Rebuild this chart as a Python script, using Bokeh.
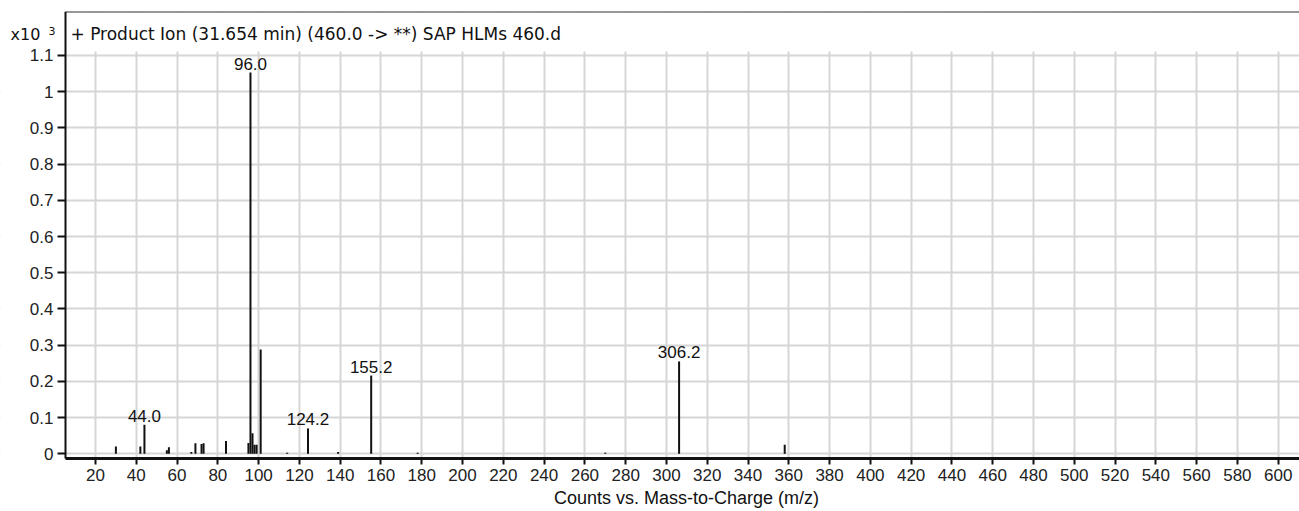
from bokeh.plotting import figure
from bokeh.models import (Range1d, FixedTicker, Label, BoxAnnotation, ColumnDataSource,
                          LinearAxis)
from bokeh.embed import file_html
from bokeh.resources import INLINE
from bokeh.core.properties import value

# ---- data (m/z, counts x10^3) ----
mz = [30, 42, 44.0, 55, 56, 67, 69, 72, 73, 84, 95, 96.0, 97, 98, 99, 101,
      114, 124.2, 139, 155.2, 178, 270, 306.2, 358]
intensity = [0.020, 0.020, 0.080, 0.010, 0.018, 0.005, 0.029, 0.027, 0.029, 0.035,
             0.030, 1.053, 0.057, 0.025, 0.025, 0.288,
             0.003, 0.070, 0.005, 0.216, 0.003, 0.003, 0.255, 0.025]
label_mz = [44.0, 96.0, 124.2, 155.2, 306.2]
label_text = ["44.0", "96.0", "124.2", "155.2", "306.2"]
x_ticks = list(range(20, 601, 20))
y_ticks = [0, 0.1, 0.2, 0.3, 0.4, 0.5, 0.6, 0.7, 0.8, 0.9, 1.0, 1.1]
y_tick_labels = ["0", "0.1", "0.2", "0.3", "0.4", "0.5", "0.6", "0.7", "0.8", "0.9", "1", "1.1"]
title_text = "+ Product Ion (31.654 min) (460.0 -> **) SAP HLMs 460.d"
x_title = "Counts vs. Mass-to-Charge (m/z)"
scale_text = "x10"
scale_exp = "3"

FONT = "Liberation Sans"
X_START, X_END = -26.59, 610.46     # visible m/z range (frame spans whole width)
X_AXIS0 = 5.29                       # where the y axis sits
Y_AXIS0 = -0.013                     # where the x axis sits
Y_START, Y_END = -0.1594, 1.2215
Y_GRID_TOP = 1.111

p = figure(width=1299, height=511, output_backend="svg", toolbar_location=None,
           x_range=Range1d(X_START, X_END), y_range=Range1d(Y_START, Y_END),
           min_border_left=0, min_border_right=0, min_border_top=11, min_border_bottom=0)
p.outline_line_color = None
p.background_fill_color = "white"
p.border_fill_color = "white"

# grids
p.xaxis.ticker = FixedTicker(ticks=x_ticks)
p.yaxis.ticker = FixedTicker(ticks=y_ticks)
p.xgrid.ticker = FixedTicker(ticks=x_ticks)
p.ygrid.ticker = FixedTicker(ticks=y_ticks)
for g in (p.xgrid, p.ygrid):
    g.grid_line_color = "#d6d6d6"
    g.grid_line_width = 2

# white covers: title band, left margin strip, bottom margin strip
for kw in (dict(bottom=Y_GRID_TOP), dict(right=X_AXIS0), dict(top=Y_AXIS0)):
    p.add_layout(BoxAnnotation(fill_color="white", fill_alpha=1.0, line_color=None,
                               level="underlay", **kw))

# x axis (inside the frame at Y_AXIS0)
xa = p.xaxis[0]
xa.fixed_location = Y_AXIS0
xa.bounds = (X_AXIS0, X_END)
xa.axis_line_width = 3
xa.axis_line_color = "#111111"
xa.major_tick_line_width = 2
xa.major_tick_line_color = "#111111"
xa.major_tick_out = 6
xa.major_tick_in = 0
xa.minor_tick_line_color = None
xa.major_label_text_font = FONT
xa.major_label_text_font_size = "17px"
xa.major_label_text_color = "#222222"
xa.major_label_standoff = 5

# y axis (inside the frame at X_AXIS0)
ya = p.yaxis[0]
ya.fixed_location = X_AXIS0
ya.bounds = (Y_AXIS0, Y_END)
ya.axis_line_width = 2
ya.axis_line_color = "#111111"
ya.major_tick_line_width = 2
ya.major_tick_line_color = "#111111"
ya.major_tick_out = 8
ya.major_tick_in = 0
ya.minor_tick_line_color = None
ya.major_label_text_font = FONT
ya.major_label_text_font_size = "17px"
ya.major_label_text_color = "#222222"
ya.major_label_standoff = 4
ya.major_label_overrides = {t: s for t, s in zip(y_ticks, y_tick_labels)}

# top frame line
top = LinearAxis(ticker=FixedTicker(ticks=[]), bounds=(X_AXIS0, X_END),
                 fixed_location=Y_END, axis_line_width=2, axis_line_color="#333333",
                 major_tick_out=0, major_tick_in=0, minor_tick_line_color=None,
                 major_label_standoff=0)
p.add_layout(top, "above")

# sticks
src = ColumnDataSource(data=dict(mz=mz, h=intensity))
p.segment(x0="mz", y0=0, x1="mz", y1="h", source=src, line_color="#111111", line_width=2)

# peak labels
lookup = dict(zip(mz, intensity))
lsrc = ColumnDataSource(data=dict(x=label_mz, y=[lookup[m] for m in label_mz], t=label_text))
p.text(x="x", y="y", text="t", source=lsrc, text_align="center", text_baseline="bottom",
       text_font=value(FONT), text_font_size="17px", text_color="#111111", y_offset=-3)

# texts (screen units, relative to frame bottom-left; frame bottom = canvas bottom)
p.add_layout(Label(x=70, y=478, x_units="screen", y_units="screen", text=title_text,
                   text_align="left", text_baseline="middle", text_font="DejaVu Sans",
                   text_font_size="17px", text_color="#111111"))
p.add_layout(Label(x=10, y=477, x_units="screen", y_units="screen", text=scale_text,
                   text_align="left", text_baseline="middle", text_font="DejaVu Sans",
                   text_font_size="16px", text_color="#111111"))
p.add_layout(Label(x=48, y=481, x_units="screen", y_units="screen", text=scale_exp,
                   text_align="left", text_baseline="middle", text_font="DejaVu Sans",
                   text_font_size="11px", text_color="#111111"))
p.add_layout(Label(x=686, y=14, x_units="screen", y_units="screen", text=x_title,
                   text_align="center", text_baseline="middle", text_font=FONT,
                   text_font_size="18px", text_color="#111111"))

open("out.html", "w").write(file_html(p, INLINE))
